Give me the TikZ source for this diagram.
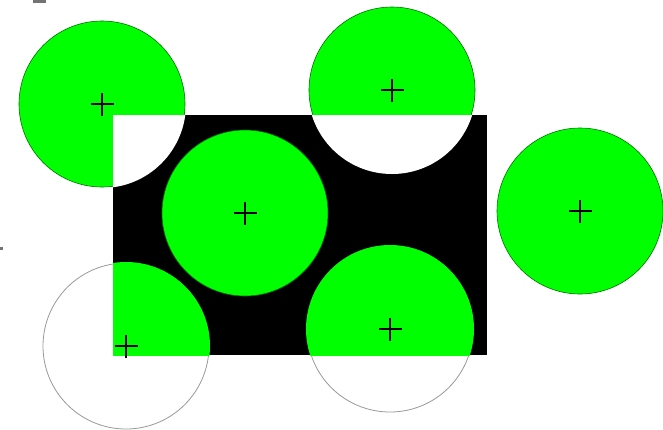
\documentclass[tikz,border=0pt]{standalone}
\begin{document}
\begin{tikzpicture}[x=1pt, y=-1pt,
  board/.style={fill=black},
  disc/.style={fill=green, draw=green!45!black, line width=0.6pt},
  hole/.style={fill=white},
  ring/.style={draw=black!40, line width=0.8pt},
  crossmark/.style={draw=black, line width=1.7pt},
  speck/.style={fill=black!55}
]
  \useasboundingbox (0,0) rectangle (663,429);
  \fill[white] (0,0) rectangle (663,429);

  % corners of the board and centres of the discs
  \coordinate (boardtl) at (113,115);
  \coordinate (boardbr) at (487,355);
  \coordinate (cupleft) at (102,104);
  \coordinate (cuptop) at (392,90);
  \coordinate (cmid) at (245,213);
  \coordinate (cright) at (580,211);
  \coordinate (clowleft) at (126,346);
  \coordinate (clowmid) at (390,329);

  % stray marks at the edge
  \fill[speck] (33,0) rectangle (46,3);
  \fill[speck] (0,247) rectangle (3,250);

  \fill[board] (boardtl) rectangle (boardbr);

  % discs cut white by the board
  \path[disc] (cupleft) circle[radius=83pt];
  \path[disc] (cuptop) circle[radius=83pt];
  \begin{scope}
    \clip (boardtl) rectangle (boardbr);
    \fill[hole] (cupleft) circle[radius=84pt];
    \fill[hole] (cuptop) circle[radius=84pt];
  \end{scope}

  % whole discs
  \path[disc] (cmid) circle[radius=83pt];
  \path[disc] (cright) circle[radius=83pt];

  % rings filled only on the board
  \path[ring] (clowleft) circle[radius=83pt];
  \path[ring] (clowmid) circle[radius=83pt];
  \begin{scope}
    \clip (boardtl) rectangle (boardbr);
    \fill[green] (clowleft) circle[radius=84pt];
    \fill[green] (clowmid) circle[radius=84pt];
  \end{scope}

  \foreach \c in {cupleft,cuptop,cmid,cright,clowleft,clowmid}
    \draw[crossmark] (\c) ++(-11.5,0) -- ++(23,0) (\c) ++(0,-11.5) -- ++(0,23);
\end{tikzpicture}
\end{document}
